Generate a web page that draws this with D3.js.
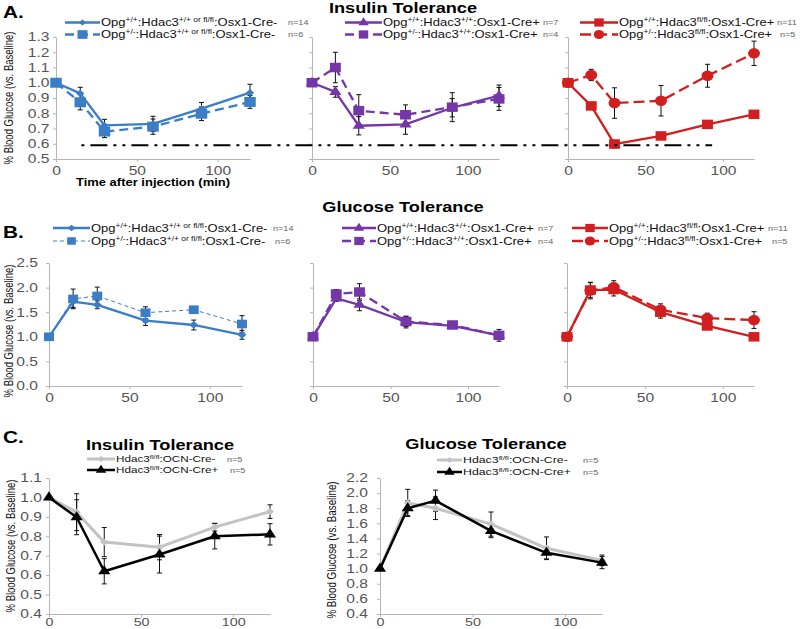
<!DOCTYPE html>
<html><head><meta charset="utf-8">
<script src="https://cdn.jsdelivr.net/npm/d3@7"></script>
<style>body{margin:0;background:#fff}svg{display:block}</style>
</head><body><svg id="chart" width="800" height="629"></svg>
<script>
// ---------------- DATA ----------------
const times = [0, 15, 30, 60, 90, 120];
const xTicks = [0, 50, 100];

// A. Insulin tolerance
const a1Solid = [1.00, 0.93, 0.72, 0.73, 0.83, 0.935];
const a1SolidErr = [0, 0.04, 0.04, 0.05, 0.04, 0.055];
const a1Dash = [1.00, 0.872, 0.68, 0.712, 0.797, 0.874];
const a1DashErr = [0, 0.05, 0.04, 0.05, 0.045, 0.042];
const a2Solid = [1.00, 0.94, 0.718, 0.727, 0.836, 0.915];
const a2SolidErr = [0, 0.035, 0.06, 0.065, 0.06, 0.07];
const a2Dash = [1.00, 1.10, 0.817, 0.79, 0.84, 0.894];
const a2DashErr = [0, 0.1, 0.105, 0.065, 0.095, 0.075];
const a3Solid = [1.00, 0.848, 0.598, 0.651, 0.727, 0.793];
const a3SolidErr = [0, 0.022, 0.025, 0.022, 0.025, 0.008];
const a3Dash = [1.00, 1.051, 0.867, 0.882, 1.046, 1.193];
const a3DashErr = [0, 0.037, 0.1, 0.1, 0.075, 0.08];
const referenceLevel = 0.59;

// B. Glucose tolerance
const b1Solid = [1.00, 1.716, 1.65, 1.33, 1.24, 1.04];
const b1SolidErr = [0, 0.12, 0.08, 0.1, 0.1, 0.09];
const b1Dash = [1.00, 1.77, 1.83, 1.49, 1.55, 1.26];
const b1DashErr = [0, 0.2, 0.18, 0.12, 0.03, 0.17];
const b2Solid = [1.00, 1.78, 1.65, 1.30, 1.22, 1.03];
const b2SolidErr = [0, 0.06, 0.12, 0.12, 0.04, 0.05];
const b2Dash = [1.00, 1.87, 1.91, 1.31, 1.24, 1.03];
const b2DashErr = [0, 0.09, 0.17, 0.1, 0.04, 0.12];
const b3Solid = [1.00, 1.95, 1.96, 1.50, 1.22, 1.00];
const b3SolidErr = [0, 0.15, 0.13, 0.12, 0.06, 0.02];
const b3Dash = [1.00, 1.94, 2.01, 1.55, 1.38, 1.34];
const b3DashErr = [0, 0.17, 0.13, 0.12, 0.1, 0.17];

// C. OCN-Cre
const c1Ctrl = [1.00, 0.924, 0.77, 0.744, 0.847, 0.927];
const c1CtrlErr = [0, 0.095, 0.075, 0.065, 0.02, 0.035];
const c1Cko = [1.00, 0.898, 0.62, 0.706, 0.80, 0.81];
const c1CkoErr = [0, 0.09, 0.065, 0.095, 0.065, 0.055];
const c2Ctrl = [1.00, 1.87, 1.80, 1.59, 1.27, 1.11];
const c2CtrlErr = [0, 0.18, 0.15, 0.16, 0.15, 0.07];
const c2Cko = [1.00, 1.80, 1.90, 1.50, 1.21, 1.08];
const c2CkoErr = [0, 0.1, 0.14, 0.09, 0.08, 0.08];

// tick values
const yTicksA = [0.5, 0.6, 0.7, 0.8, 0.9, 1.0, 1.1, 1.2, 1.3];
const yTicksB = [0, 0.5, 1.0, 1.5, 2.0, 2.5];
const yTicksC1 = [0.4, 0.5, 0.6, 0.7, 0.8, 0.9, 1.0, 1.1];
const yTicksC2 = [0.4, 0.6, 0.8, 1.0, 1.2, 1.4, 1.6, 1.8, 2.0, 2.2];

// texts
const legendA1 = ["Opg^{+/+}:Hdac3^{+/+ or fl/fl}:Osx1-Cre-", "Opg^{+/-}:Hdac3^{+/+ or fl/fl}:Osx1-Cre-"];
const legendA2 = ["Opg^{+/+}:Hdac3^{+/+}:Osx1-Cre+", "Opg^{+/-}:Hdac3^{+/+}:Osx1-Cre+"];
const legendA3 = ["Opg^{+/+}:Hdac3^{fl/fl}:Osx1-Cre+", "Opg^{+/-}:Hdac3^{fl/fl}:Osx1-Cre+"];
const legendC = ["Hdac3^{fl/fl}:OCN-Cre-", "Hdac3^{fl/fl}:OCN-Cre+"];
const nA1 = ["n=14", "n=6"], nA2 = ["n=7", "n=4"], nA3 = ["n=11", "n=5"], nC = ["n=5", "n=5"];
const yTitle = "% Blood Glucose (vs. Baseline)";
const xTitle = "Time after injection (min)";

// ---------------- DRAWING ----------------
const SX = 1.3;           // horizontal text stretch of the source image
const FONT = "'Liberation Sans', Arial, Helvetica, sans-serif";
const BLUE = "#3b7ec6", PURPLE = "#7537a8", RED = "#d11f1f", GRAY = "#c3c3c3", BLACK = "#000";
const AXIS = "#b5b5b5";
const svg = d3.select("#chart").attr("font-family", FONT);

function stretch(sel, k = SX) {
  sel.each(function () {
    const t = d3.select(this);
    const x = +(t.attr("x") || 0);
    const tr = t.attr("transform") || "";
    t.attr("x", x / k).attr("transform", (tr + ` scale(${k},1)`).trim());
  });
}
function rich(sel, str, fs) {
  const parts = str.split(/(\^\{[^}]*\})/).filter(Boolean);
  let up = false;
  parts.forEach(p => {
    if (p.startsWith("^{")) {
      sel.append("tspan").attr("font-size", fs * 0.65).attr("dy", up ? 0 : -fs * 0.38).text(p.slice(2, -1));
      up = true;
    } else {
      sel.append("tspan").attr("font-size", fs).attr("dy", up ? fs * 0.38 : 0).text(p);
      up = false;
    }
  });
}
function addText(x, y, str, o = {}) {
  const t = svg.append("text").attr("x", x).attr("y", y)
    .attr("font-size", o.size || 12).attr("font-weight", o.weight || "normal")
    .attr("text-anchor", o.anchor || "start").attr("fill", o.fill || "#111");
  if (o.rich) rich(t, str, o.size || 12); else t.text(str);
  stretch(t);
  return t;
}
function yLabel(cx, cy, size) {
  svg.append("text").attr("transform", `translate(${cx},${cy}) scale(${SX},1) rotate(-90)`)
    .attr("text-anchor", "middle").attr("font-size", size).attr("fill", "#111").text(yTitle);
}
const SYM = { square: d3.symbolSquare, triangle: d3.symbolTriangle, circle: d3.symbolCircle, diamond: d3.symbolSquare };
function marker(g, shape, size, color, px, py) {
  g.append("path").attr("d", d3.symbol(SYM[shape], size)())
    .attr("transform", `translate(${px},${py}) scale(1.15,1)` + (shape === "diamond" ? " rotate(45)" : ""))
    .attr("fill", color);
}

function panel(o) {
  const x = d3.scaleLinear().domain([0, 120]).range([o.x0, o.x1]);
  const y = d3.scaleLinear().domain(o.yDomain).range([o.yBot, o.yTop]);
  const g = svg.append("g");
  const ya = d3.axisLeft(y).tickValues(o.yTicks).tickSize(3).tickSizeOuter(0).tickPadding(o.pad)
    .tickFormat(o.labels ? d3.format(".1f") : () => "");
  const gy = g.append("g").attr("transform", `translate(${o.x0},0)`).call(ya);
  const xa = d3.axisBottom(x).tickValues(xTicks).tickSize(3).tickSizeOuter(0).tickPadding(o.xpad ?? 4);
  const gx = g.append("g").attr("transform", `translate(0,${o.yBot})`).call(xa);
  [gy, gx].forEach(a => {
    a.attr("font-family", FONT).attr("font-size", 12);
    a.select(".domain").attr("stroke", AXIS);
    a.selectAll(".tick line").attr("stroke", AXIS);
    a.selectAll("text").attr("fill", "#555");
    stretch(a.selectAll("text"));
  });
  if (o.xfs) gx.attr("font-size", o.xfs);
  // error bars
  o.series.forEach(s => {
    times.forEach((t, i) => {
      if (!s.errs[i]) return;
      const cx = x(t), y1 = y(s.values[i] + s.errs[i]), y2 = y(s.values[i] - s.errs[i]);
      g.append("line").attr("x1", cx).attr("x2", cx).attr("y1", y1).attr("y2", y2).attr("stroke", "#111").attr("stroke-width", 1);
      [y1, y2].forEach(yy => g.append("line").attr("x1", cx - 2.5).attr("x2", cx + 2.5).attr("y1", yy).attr("y2", yy).attr("stroke", "#111").attr("stroke-width", 1));
    });
  });
  // lines + markers
  o.series.forEach(s => {
    g.append("path").datum(times.map((t, i) => [t, s.values[i]]))
      .attr("d", d3.line().x(d => x(d[0])).y(d => y(d[1])))
      .attr("fill", "none").attr("stroke", s.color).attr("stroke-width", s.width)
      .attr("stroke-dasharray", s.dash || null).attr("stroke-linejoin", "round");
    times.forEach((t, i) => marker(g, s.shape, s.size, s.color, x(t), y(s.values[i])));
  });
  return { x, y };
}

function legend(o) {
  o.items.forEach((s, i) => {
    const ly = o.ys[i];
    svg.append("line").attr("x1", o.l0).attr("x2", o.l1).attr("y1", ly).attr("y2", ly)
      .attr("stroke", s.color).attr("stroke-width", s.width).attr("stroke-dasharray", s.dash || null);
    marker(svg, s.shape, s.size * 0.75, s.color, (o.l0 + o.l1) / 2, ly);
    addText(o.tx, ly + o.fs * 0.36, o.labels[i], { size: o.fs, rich: true, fill: "#111" });
    addText(o.nx[i], ly + 3, o.ns[i], { size: 7, fill: "#666" });
  });
}

// series styles
const S = (values, errs, color, shape, size, width, dash) => ({ values, errs, color, shape, size, width, dash });

// ---- Panel A ----
const A = { yDomain: [0.5, 1.3], yTop: 37, yBot: 159, yTicks: yTicksA };
const sA1 = [S(a1Solid, a1SolidErr, BLUE, "diamond", 26, 2.3), S(a1Dash, a1DashErr, BLUE, "square", 100, 2.3, "9,5")];
const sA2 = [S(a2Solid, a2SolidErr, PURPLE, "triangle", 48, 2.3), S(a2Dash, a2DashErr, PURPLE, "square", 90, 2.3, "9,5")];
const sA3 = [S(a3Solid, a3SolidErr, RED, "square", 90, 2.3), S(a3Dash, a3DashErr, RED, "circle", 85, 2.3, "11,5")];
const pA1 = panel({ ...A, x0: 56, x1: 250, labels: true, pad: 3.5, series: sA1 });
panel({ ...A, x0: 312, x1: 499, labels: false, pad: 3, series: sA2 });
const pA3 = panel({ ...A, x0: 568, x1: 754, labels: false, pad: 3, series: sA3 });
svg.append("line").attr("x1", pA1.x(12)).attr("x2", pA3.x(93))
  .attr("y1", pA1.y(referenceLevel)).attr("y2", pA1.y(referenceLevel))
  .attr("stroke", "#000").attr("stroke-width", 2).attr("stroke-dasharray", "17,6,3,6,3,6").attr("stroke-dashoffset", 26);

legend({ items: sA1, labels: legendA1, ns: nA1, l0: 65, l1: 100, tx: 101, ys: [22.5, 34.5], nx: [288, 288], fs: 10 });
legend({ items: sA2, labels: legendA2, ns: nA2, l0: 345, l1: 382, tx: 383, ys: [22.5, 34.5], nx: [543, 543], fs: 10 });
legend({ items: sA3, labels: legendA3, ns: nA3, l0: 580, l1: 618, tx: 619, ys: [22.5, 34.5], nx: [777, 780], fs: 10 });

addText(3, 18, "A.", { size: 16, weight: "bold", fill: "#000" });
addText(403, 13, "Insulin Tolerance", { size: 14, weight: "bold", anchor: "middle", fill: "#000" });
addText(153, 186, xTitle, { size: 10, weight: "bold", anchor: "middle", fill: "#000" });
yLabel(13, 98, 9.5);

// ---- Panel B ----
const B = { yDomain: [0, 2.5], yTop: 263, yBot: 386, yTicks: yTicksB };
const sB1 = [S(b1Solid, b1SolidErr, BLUE, "diamond", 30, 2.3), S(b1Dash, b1DashErr, BLUE, "square", 75, 1, "4,3")];
const sB2 = [S(b2Solid, b2SolidErr, PURPLE, "triangle", 48, 2.3), S(b2Dash, b2DashErr, PURPLE, "square", 90, 2.3, "9,5")];
const sB3 = [S(b3Solid, b3SolidErr, RED, "square", 90, 2.3), S(b3Dash, b3DashErr, RED, "circle", 85, 2.3, "11,5")];
panel({ ...B, x0: 49, x1: 242, labels: true, pad: 8, series: sB1 });
panel({ ...B, x0: 313, x1: 499, labels: false, pad: 3, series: sB2 });
panel({ ...B, x0: 567, x1: 754, labels: false, pad: 3, series: sB3 });
legend({ items: sB1, labels: legendA1, ns: nA1, l0: 53, l1: 90, tx: 91, ys: [228, 241], nx: [273, 275], fs: 10 });
legend({ items: sB2, labels: legendA2, ns: nA2, l0: 342, l1: 376, tx: 377, ys: [228, 241], nx: [538, 538], fs: 10 });
legend({ items: sB3, labels: legendA3, ns: nA3, l0: 572, l1: 608, tx: 609, ys: [228, 241], nx: [768, 772], fs: 10 });
addText(3, 238, "B.", { size: 16, weight: "bold", fill: "#000" });
addText(403, 212, "Glucose Tolerance", { size: 14, weight: "bold", anchor: "middle", fill: "#000" });
yLabel(13, 331, 9.5);

// ---- Panel C ----
const sC1 = [S(c1Ctrl, c1CtrlErr, GRAY, "diamond", 26, 3), S(c1Cko, c1CkoErr, BLACK, "triangle", 48, 2.5)];
const sC2 = [S(c2Ctrl, c2CtrlErr, GRAY, "diamond", 26, 3), S(c2Cko, c2CkoErr, BLACK, "triangle", 48, 2.5)];
panel({ yDomain: [0.4, 1.1], yTop: 478, yBot: 614, yTicks: yTicksC1, x0: 49, x1: 270, labels: true, pad: 4, xpad: 1, xfs: 11, series: sC1 });
panel({ yDomain: [0.4, 2.2], yTop: 478, yBot: 614, yTicks: yTicksC2, x0: 380, x1: 602, labels: true, pad: 9, xpad: 1, xfs: 11, series: sC2 });
legend({ items: sC1, labels: legendC, ns: nC, l0: 87, l1: 115, tx: 116, ys: [459, 470], nx: [227, 230], fs: 9 });
legend({ items: sC2, labels: legendC, ns: nC, l0: 437, l1: 462, tx: 463, ys: [460, 472], nx: [583, 583], fs: 9.5 });
addText(3, 443, "C.", { size: 16, weight: "bold", fill: "#000" });
addText(160, 450, "Insulin Tolerance", { size: 14, weight: "bold", anchor: "middle", fill: "#000" });
addText(486, 449, "Glucose Tolerance", { size: 14, weight: "bold", anchor: "middle", fill: "#000" });
yLabel(15, 546, 9.5);
yLabel(336, 550, 9.8);
</script></body></html>
